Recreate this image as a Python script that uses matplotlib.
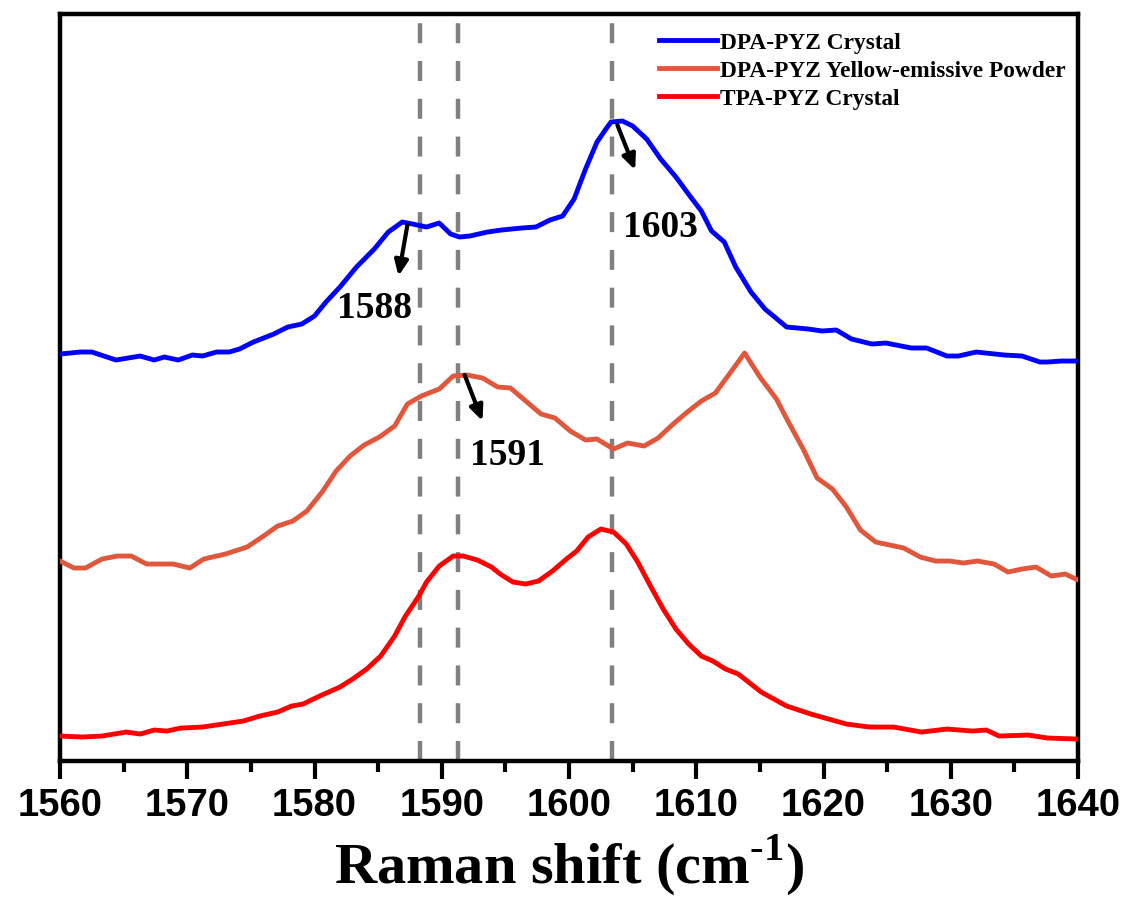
import matplotlib
matplotlib.use('Agg')
import matplotlib.pyplot as plt
from matplotlib.ticker import MultipleLocator

plt.rcParams['mathtext.fontset'] = 'custom'
plt.rcParams['mathtext.rm'] = 'Liberation Serif:bold'
plt.rcParams['mathtext.bf'] = 'Liberation Serif:bold'

# Raman shift (cm-1) and offset intensities (a.u.)
dpa_x = [1560, 1561.6, 1562.5, 1564.4, 1566.3, 1567.4, 1568.2, 1569.3, 1570.4, 1571.2,
         1572.3, 1573.3, 1574.1, 1575.2, 1576.8, 1577.9, 1579.0, 1580.0, 1580.9, 1582.0,
         1583.3, 1584.7, 1585.8, 1586.9, 1587.7, 1588.8, 1589.8, 1590.7, 1591.4, 1592.2,
         1593.6, 1594.7, 1596.3, 1597.4, 1598.5, 1599.5, 1600.4, 1601.3, 1602.2, 1602.9,
         1603.3, 1604.2, 1605.0, 1606.1, 1607.2, 1608.4, 1609.5, 1610.4, 1611.2, 1612.2,
         1613.1, 1614.3, 1615.4, 1617.1, 1618.8, 1619.9, 1621.0, 1622.2, 1623.8, 1624.9,
         1626.9, 1628.1, 1629.7, 1630.6, 1632.0, 1634.2, 1635.6, 1637.0, 1637.6, 1638.7, 1640]
dpa_y = [4.07, 4.09, 4.09, 4.01, 4.05, 4.01, 4.04, 4.01, 4.06, 4.05,
         4.09, 4.09, 4.12, 4.19, 4.27, 4.34, 4.37, 4.45, 4.59, 4.74,
         4.94, 5.12, 5.29, 5.39, 5.37, 5.34, 5.38, 5.27, 5.24, 5.25,
         5.29, 5.31, 5.33, 5.34, 5.41, 5.45, 5.62, 5.92, 6.19, 6.32,
         6.39, 6.40, 6.35, 6.22, 6.02, 5.84, 5.65, 5.50, 5.30, 5.19,
         4.94, 4.69, 4.52, 4.34, 4.32, 4.30, 4.31, 4.22, 4.17, 4.18,
         4.13, 4.13, 4.05, 4.05, 4.09, 4.06, 4.05, 3.99, 3.99, 4.00, 4.00]

pow_x = [1560, 1561.1, 1562.0, 1563.3, 1564.5, 1565.6, 1566.8, 1568.9, 1570.2, 1571.3,
         1573.0, 1574.7, 1576.0, 1577.1, 1578.3, 1579.4, 1580.6, 1581.7, 1582.8, 1583.9,
         1585.1, 1586.3, 1587.3, 1588.4, 1589.8, 1590.9, 1592.0, 1593.2, 1594.4, 1595.4,
         1596.6, 1597.8, 1598.9, 1600.1, 1601.3, 1602.2, 1603.5, 1604.6, 1605.9, 1607.0,
         1608.1, 1609.2, 1610.4, 1611.5, 1612.6, 1613.8, 1615.0, 1616.3, 1617.2, 1618.4,
         1619.5, 1620.7, 1621.8, 1622.9, 1624.1, 1626.3, 1627.6, 1628.8, 1629.9, 1631.0,
         1632.1, 1633.4, 1634.5, 1635.6, 1636.7, 1637.9, 1639.0, 1640]
pow_y = [2.00, 1.93, 1.93, 2.02, 2.05, 2.05, 1.97, 1.97, 1.93, 2.02,
         2.07, 2.14, 2.25, 2.35, 2.40, 2.50, 2.69, 2.90, 3.05, 3.16,
         3.24, 3.35, 3.57, 3.65, 3.72, 3.85, 3.86, 3.83, 3.74, 3.73,
         3.60, 3.47, 3.43, 3.30, 3.21, 3.22, 3.12, 3.18, 3.15, 3.23,
         3.36, 3.48, 3.60, 3.68, 3.87, 4.08, 3.84, 3.62, 3.40, 3.12,
         2.83, 2.72, 2.54, 2.31, 2.19, 2.13, 2.04, 2.00, 2.00, 1.98,
         2.00, 1.97, 1.89, 1.92, 1.94, 1.85, 1.87, 1.81]

tpa_x = [1560, 1561.7, 1563.3, 1565.2, 1566.3, 1567.4, 1568.4, 1569.5, 1571.2, 1572.8,
         1574.4, 1575.7, 1577.1, 1578.2, 1579.1, 1580.4, 1582.0, 1583.0, 1584.1, 1585.2,
         1586.3, 1587.1, 1588.2, 1588.8, 1589.8, 1590.9, 1591.7, 1592.8, 1593.9, 1594.7,
         1595.6, 1596.6, 1597.6, 1598.7, 1599.8, 1600.6, 1601.5, 1602.5, 1603.5, 1604.5,
         1605.4, 1606.4, 1607.4, 1608.4, 1609.4, 1610.4, 1611.3, 1612.3, 1613.3, 1615.1,
         1617.1, 1619.0, 1621.8, 1623.6, 1625.5, 1627.7, 1629.7, 1631.7, 1632.8, 1633.8,
         1636.1, 1637.6, 1640]
tpa_y = [0.25, 0.24, 0.25, 0.29, 0.27, 0.31, 0.30, 0.33, 0.34, 0.37,
         0.40, 0.45, 0.49, 0.55, 0.57, 0.65, 0.74, 0.82, 0.92, 1.05,
         1.25, 1.44, 1.65, 1.79, 1.95, 2.05, 2.05, 2.01, 1.94, 1.86,
         1.79, 1.77, 1.80, 1.90, 2.02, 2.10, 2.24, 2.32, 2.29, 2.17,
         1.99, 1.75, 1.52, 1.32, 1.17, 1.05, 1.00, 0.92, 0.87, 0.69,
         0.55, 0.47, 0.37, 0.34, 0.34, 0.29, 0.32, 0.30, 0.31, 0.25,
         0.26, 0.23, 0.22]

peak_lines = [1588.3, 1591.3, 1603.4]

# label text, text position, arrow tail, arrow head
peak_notes = [('1588', (1584.75, 4.54), (1587.3, 5.36), (1586.6, 4.85)),
              ('1603', (1607.15, 5.35), (1603.8, 6.36), (1605.2, 5.91)),
              ('1591', (1595.2, 3.07), (1591.8, 3.86), (1593.2, 3.40))]

fig = plt.figure(figsize=(11.3, 9.03), dpi=100)
ax = fig.add_axes([0.0531, 0.1561, 0.9009, 0.8273])

for xv in peak_lines:
    ax.axvline(xv, color='#808080', lw=3.2, dashes=(4.5, 4), zorder=1)

ax.plot(dpa_x, dpa_y, color='#0000FF', lw=3.5, label='DPA-PYZ Crystal', zorder=3)
ax.plot(pow_x, pow_y, color='#E0573C', lw=3.5, label='DPA-PYZ Yellow-emissive Powder', zorder=3)
ax.plot(tpa_x, tpa_y, color='#FF0000', lw=3.5, label='TPA-PYZ Crystal', zorder=3)

for txt, pos, tail, head in peak_notes:
    ax.annotate('', xy=head, xytext=tail,
                arrowprops=dict(arrowstyle='-|>,head_length=0.9,head_width=0.4',
                                color='black', lw=3, shrinkA=0, shrinkB=0), zorder=4)
    ax.text(pos[0], pos[1], txt, ha='center', va='center', fontsize=27,
            fontweight='bold', family='Liberation Serif')

ax.set_xlim(1560, 1640)
ax.set_ylim(0, 7.47)
ax.xaxis.set_major_locator(MultipleLocator(10))
ax.xaxis.set_minor_locator(MultipleLocator(5))
ax.set_yticks([])

for side in ['left', 'right', 'top', 'bottom']:
    ax.spines[side].set_linewidth(3.2)

ax.tick_params(axis='x', which='major', direction='out', length=13, width=3,
               pad=6, labelsize=27.5)
ax.tick_params(axis='x', which='minor', direction='out', length=8, width=3)
for lbl in ax.get_xticklabels():
    lbl.set_fontfamily('Liberation Sans')
    lbl.set_fontweight('bold')

ax.set_xlabel(r'Raman shift (cm$^{\text{-1}}$)', fontsize=42, fontweight='bold',
              family='Liberation Serif', labelpad=6)

leg = ax.legend(loc='upper left', bbox_to_anchor=(0.588, 0.976), frameon=False,
                borderpad=0, borderaxespad=0, handlelength=2.5, handletextpad=0.12,
                labelspacing=0.28, prop={'family': 'Liberation Serif', 'weight': 'bold', 'size': 16.8})

fig.savefig('out.png', dpi=100)
